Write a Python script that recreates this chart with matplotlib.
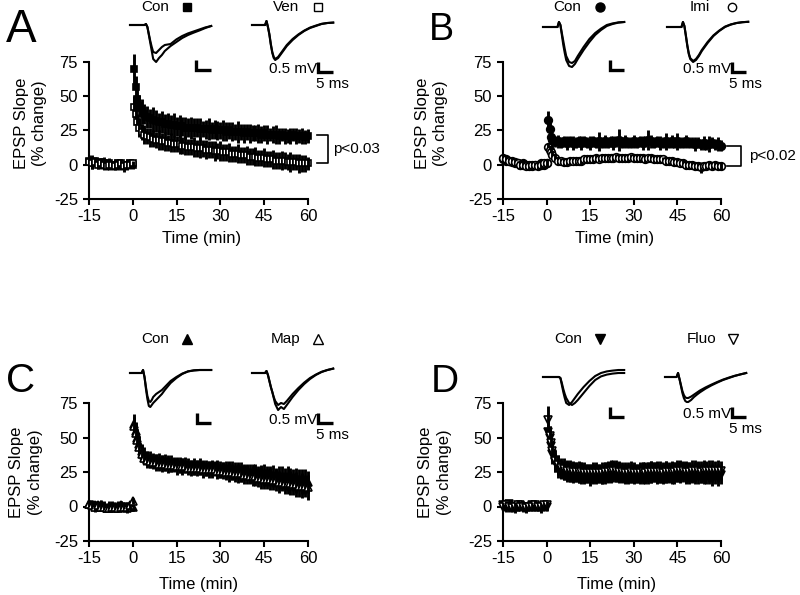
import matplotlib
matplotlib.use("Agg")
import matplotlib.pyplot as plt
from matplotlib.lines import Line2D

plt.rcParams['font.family'] = ['Liberation Sans', 'DejaVu Sans']
plt.rcParams['axes.unicode_minus'] = False

# ---------------- data ----------------
TIME_PRE = [-15, -14, -13, -12, -11, -10, -9, -8, -7, -6, -5, -4, -3, -2, -1, 0]
TIME_POST = [0.5, 1, 1.5] + list(range(2, 61))
TIME = TIME_PRE + TIME_POST

X_TICKS = [-15, 0, 15, 30, 45, 60]
Y_TICKS = [-25, 0, 25, 50, 75]

# Panel A: Con (filled squares) vs Ven (open squares)
A_CON = [3, 2, 3, 1, 2, 1, 0, 1, -1, 0, 1, 0, -1, 0, 1, 0,
         70, 57, 48,
         43, 39, 37, 35, 34, 33, 32, 31, 31, 30,
         30, 29, 29, 28, 28, 28, 27, 27, 27, 27,
         27, 26, 26, 26, 26, 25, 26, 25, 25, 25,
         24, 25, 24, 24, 24, 24, 23, 24, 23, 23,
         23, 23, 22, 23, 22, 22, 22, 22, 21, 22,
         21, 21, 21, 22, 21, 21, 21, 20, 21]
A_CON_ERR = [4, 5, 3, 4, 3, 5, 3, 4, 3, 4, 3, 4, 4, 3, 3, 3,
             11, 8, 8,
             8, 9, 7, 8, 7, 9, 8, 7, 8, 7,
             8, 7, 9, 7, 8, 7, 8, 7, 8, 7,
             7, 8, 6, 7, 8, 6, 7, 7, 6, 8,
             7, 6, 7, 6, 8, 6, 7, 6, 7, 6,
             6, 7, 6, 6, 7, 5, 6, 7, 6, 5,
             6, 5, 6, 5, 6, 5, 6, 5, 5]
A_VEN = [2, 1, 2, 0, 1, 0, -1, 0, 0, -1, 0, 1, -1, 0, 0, 1,
         42, 37, 31,
         27, 24, 22, 21, 20, 19, 18, 18, 17, 17,
         16, 16, 15, 15, 15, 14, 14, 13, 13, 13,
         12, 12, 12, 11, 11, 11, 10, 10, 10, 9,
         9, 9, 8, 8, 8, 7, 7, 7, 6, 6,
         6, 5, 5, 5, 4, 4, 4, 3, 3, 3,
         3, 2, 2, 2, 2, 1, 1, 1, 1]
A_VEN_ERR = [3, 4, 3, 3, 4, 3, 3, 4, 3, 3, 4, 3, 3, 4, 3, 2,
             8, 7, 6,
             7, 6, 7, 6, 7, 6, 6, 7, 6, 7,
             6, 7, 6, 6, 7, 6, 7, 6, 6, 7,
             6, 7, 6, 7, 6, 6, 7, 6, 7, 6,
             6, 7, 6, 6, 7, 6, 6, 7, 6, 6,
             7, 6, 6, 7, 6, 6, 7, 6, 6, 7,
             6, 6, 7, 6, 6, 7, 6, 6, 5]

# Panel B: Con (filled circles) vs Imi (open circles)
B_CON = [4, 3, 3, 2, 1, 1, 0, 1, 0, 0, -1, 0, 0, 1, 0, 1,
         33, 26, 20,
         18, 17, 17, 16, 17, 16, 17, 16, 16, 17,
         16, 17, 16, 16, 17, 16, 17, 16, 17, 16,
         17, 16, 17, 18, 16, 17, 16, 16, 17, 16,
         17, 16, 17, 18, 17, 16, 17, 16, 16, 17,
         16, 17, 16, 17, 16, 16, 17, 16, 16, 15,
         16, 15, 16, 15, 15, 16, 15, 15, 14]
B_CON_ERR = [3, 3, 3, 3, 3, 3, 3, 3, 3, 3, 3, 3, 3, 3, 3, 3,
             6, 5, 5,
             5, 4, 5, 4, 4, 5, 4, 5, 4, 4,
             5, 4, 4, 5, 4, 4, 7, 4, 5, 4,
             4, 5, 4, 8, 4, 5, 4, 4, 5, 4,
             4, 5, 4, 7, 5, 4, 4, 5, 4, 6,
             4, 5, 4, 6, 4, 4, 5, 4, 4, 5,
             4, 4, 5, 4, 6, 4, 4, 5, 4]
B_IMI = [5, 4, 3, 3, 2, 1, 0, 0, -1, -1, 0, 0, -1, 0, 1, 1,
         13, 11, 9,
         7, 5, 3, 3, 2, 2, 3, 3, 3, 3,
         3, 4, 4, 4, 4, 5, 4, 5, 5, 5,
         5, 5, 6, 5, 5, 5, 5, 6, 5, 5,
         5, 5, 4, 5, 5, 4, 4, 4, 4, 3,
         3, 3, 2, 2, 1, 1, 0, 0, 0, -1,
         -1, -2, -1, -1, 0, -1, 0, -1, -1]
B_IMI_ERR = [3, 3, 2, 3, 3, 2, 3, 3, 2, 3, 3, 2, 3, 3, 2, 3,
             3, 3, 3,
             3, 3, 3, 2, 3, 3, 3, 2, 3, 3,
             3, 2, 3, 3, 3, 3, 2, 3, 3, 3,
             3, 3, 2, 3, 3, 3, 3, 2, 3, 3,
             3, 3, 3, 2, 3, 3, 3, 3, 2, 3,
             3, 3, 3, 3, 2, 3, 3, 3, 3, 3,
             3, 4, 3, 3, 3, 3, 3, 3, 3]

# Panel C: Con (filled triangles) vs Map (open triangles)
C_CON = [2, 1, 1, 0, 1, 0, -1, 0, 0, -1, 0, 1, 0, -1, 0, 0,
         60, 55, 50,
         45, 40, 37, 35, 34, 34, 33, 33, 32, 32,
         32, 31, 31, 31, 30, 30, 30, 30, 29, 29,
         29, 29, 29, 28, 28, 28, 28, 28, 27, 27,
         27, 27, 26, 26, 26, 25, 25, 25, 24, 24,
         24, 23, 23, 23, 22, 22, 22, 21, 21, 21,
         20, 20, 20, 19, 19, 19, 18, 18, 18]
C_CON_ERR = [3, 4, 3, 3, 4, 3, 3, 4, 3, 3, 4, 3, 3, 4, 3, 3,
             7, 6, 6,
             6, 5, 6, 5, 6, 5, 5, 6, 5, 6,
             5, 6, 5, 5, 6, 5, 6, 5, 5, 6,
             5, 6, 5, 6, 5, 6, 5, 6, 6, 5,
             6, 6, 7, 6, 6, 7, 6, 6, 7, 7,
             7, 6, 7, 8, 7, 7, 8, 7, 8, 8,
             8, 9, 8, 8, 9, 8, 9, 9, 8]
C_MAP = [2, 1, 0, 1, 0, 0, -1, -1, 0, 0, -1, 0, 0, 0, 1, 4,
         58, 53, 48,
         43, 38, 35, 34, 33, 32, 32, 31, 31, 31,
         30, 30, 30, 29, 29, 29, 29, 28, 28, 28,
         28, 28, 27, 27, 27, 27, 27, 26, 26, 26,
         25, 25, 25, 24, 24, 24, 23, 23, 22, 22,
         22, 21, 21, 20, 20, 20, 19, 19, 18, 18,
         17, 17, 17, 16, 16, 15, 15, 15, 14]
C_MAP_ERR = [3, 3, 4, 3, 3, 4, 3, 3, 4, 3, 3, 4, 3, 3, 3, 2,
             7, 6, 6,
             5, 6, 5, 6, 5, 5, 6, 5, 6, 5,
             6, 5, 5, 6, 5, 6, 5, 5, 6, 5,
             6, 5, 6, 5, 6, 6, 5, 6, 5, 6,
             6, 7, 6, 6, 7, 6, 7, 7, 6, 7,
             7, 7, 8, 7, 7, 8, 7, 8, 8, 7,
             8, 8, 9, 8, 9, 8, 9, 8, 9]

# Panel D: Con (filled down-triangles) vs Fluo (open down-triangles)
D_CON = [1, 0, 2, 0, -1, 0, 1, 0, -1, 0, 1, 0, 0, -1, 0, 0,
         54, 50, 44,
         38, 32, 29, 27, 26, 26, 25, 25, 25, 24,
         24, 24, 24, 23, 24, 24, 24, 23, 24, 25,
         25, 26, 25, 25, 24, 24, 24, 24, 24, 24,
         24, 24, 24, 24, 25, 25, 24, 24, 24, 25,
         24, 24, 24, 25, 25, 25, 24, 24, 24, 24,
         24, 24, 24, 24, 23, 23, 23, 23, 23]
D_CON_ERR = [3, 4, 3, 3, 4, 3, 3, 4, 3, 3, 4, 3, 3, 4, 3, 3,
             8, 8, 7,
             7, 7, 8, 7, 7, 8, 7, 8, 7, 7,
             8, 7, 7, 8, 7, 8, 7, 7, 8, 7,
             8, 8, 7, 8, 7, 7, 8, 7, 8, 7,
             7, 8, 7, 8, 8, 7, 8, 7, 8, 8,
             7, 8, 8, 7, 8, 7, 8, 8, 7, 8,
             8, 7, 8, 8, 7, 8, 7, 8, 7]
D_FLUO = [0, 1, 0, -1, 0, 1, 0, 0, -1, 0, 0, 1, 0, 0, 1, 1,
          63, 51, 46,
          40, 33, 30, 28, 27, 26, 26, 25, 25, 25,
          25, 24, 24, 24, 24, 24, 24, 24, 25, 25,
          26, 26, 26, 25, 25, 24, 24, 25, 24, 24,
          24, 25, 24, 25, 25, 25, 25, 25, 24, 25,
          25, 25, 25, 26, 26, 26, 25, 25, 26, 26,
          26, 25, 26, 26, 26, 26, 26, 26, 26]
D_FLUO_ERR = [3, 3, 4, 3, 3, 4, 3, 3, 4, 3, 3, 4, 3, 3, 3, 3,
              10, 7, 7,
              7, 8, 7, 7, 8, 7, 8, 7, 7, 8,
              7, 8, 7, 7, 8, 7, 7, 8, 7, 8,
              8, 7, 8, 7, 7, 8, 7, 8, 7, 7,
              8, 7, 8, 7, 8, 7, 8, 8, 7, 8,
              7, 8, 7, 8, 8, 7, 8, 7, 8, 8,
              7, 8, 8, 7, 8, 8, 7, 8, 7]

# Example EPSP traces (ms, mV): two overlaid sweeps per inset
T_TRACE = [0, 4, 4.5, 5, 5.5, 6, 6.5, 7, 7.5, 8, 9, 10, 11, 12, 14, 16, 18, 20, 22, 24, 26, 28]
TR_A_CON_1 = [0, 0, 0, 0, 0.05, -0.1, -0.5, -0.9, -1.3, -1.7, -1.85, -1.65, -1.5, -1.3, -1.05, -0.85, -0.65, -0.5, -0.38, -0.27, -0.15, -0.05]
TR_A_CON_2 = [0, 0, 0, 0, 0.05, -0.1, -0.45, -0.8, -1.1, -1.35, -1.4, -1.25, -1.1, -1.0, -0.95, -0.72, -0.55, -0.42, -0.32, -0.22, -0.12, -0.05]
TR_A_VEN_1 = [0, 0, 0, 0.2, -0.1, -0.5, -1.0, -1.4, -1.65, -1.75, -1.65, -1.45, -1.25, -1.05, -0.75, -0.5, -0.3, -0.15, -0.05, 0.05, 0.1, 0.12]
TR_A_VEN_2 = [0, 0, 0, 0.2, -0.1, -0.45, -0.95, -1.35, -1.6, -1.7, -1.6, -1.4, -1.2, -1.0, -0.7, -0.47, -0.28, -0.13, -0.03, 0.06, 0.1, 0.12]
TR_B_CON_1 = [0, 0, 0, 0, 0.25, 0.1, -0.4, -0.9, -1.3, -1.65, -1.95, -2.0, -1.85, -1.6, -1.15, -0.75, -0.4, -0.15, 0.05, 0.15, 0.22, 0.25]
TR_B_CON_2 = [0, 0, 0, 0, 0.25, 0.1, -0.3, -0.7, -1.1, -1.45, -1.75, -1.8, -1.7, -1.45, -1.0, -0.6, -0.3, -0.08, 0.1, 0.18, 0.23, 0.25]
TR_B_IMI_1 = [0, 0, 0, 0, 0.25, 0.05, -0.45, -0.95, -1.35, -1.6, -1.75, -1.65, -1.45, -1.2, -0.8, -0.45, -0.2, 0, 0.12, 0.2, 0.24, 0.26]
TR_B_IMI_2 = [0, 0, 0, 0, 0.25, 0.05, -0.4, -0.9, -1.3, -1.55, -1.7, -1.6, -1.4, -1.15, -0.75, -0.42, -0.18, 0.02, 0.13, 0.2, 0.24, 0.26]
TR_C_CON_1 = [0, 0, 0.15, -0.2, -0.8, -1.3, -1.65, -1.7, -1.6, -1.5, -1.35, -1.2, -1.05, -0.85, -0.5, -0.25, -0.05, 0.08, 0.13, 0.15, 0.15, 0.15]
TR_C_CON_2 = [0, 0, 0.15, -0.2, -0.7, -1.15, -1.4, -1.45, -1.35, -1.2, -1.05, -0.95, -0.85, -0.7, -0.4, -0.2, -0.03, 0.08, 0.13, 0.15, 0.15, 0.15]
TR_C_MAP_1 = [0, 0, 0, 0.1, -0.1, -0.4, -0.7, -0.95, -1.25, -1.55, -1.85, -1.7, -1.8, -1.6, -1.2, -0.85, -0.55, -0.3, -0.1, 0.05, 0.15, 0.22]
TR_C_MAP_2 = [0, 0, 0, 0.1, -0.1, -0.4, -0.7, -0.95, -1.2, -1.4, -1.6, -1.5, -1.55, -1.4, -1.05, -0.75, -0.48, -0.25, -0.08, 0.06, 0.15, 0.22]
TR_D_CON_1 = [0, 0, 0, 0, 0, -0.05, -0.4, -0.75, -1.05, -1.3, -1.4, -1.25, -1.05, -0.85, -0.5, -0.2, 0.05, 0.2, 0.28, 0.32, 0.35, 0.35]
TR_D_CON_2 = [0, 0, 0, 0, 0, -0.05, -0.3, -0.6, -0.85, -1.05, -1.3, -1.4, -1.3, -1.15, -0.8, -0.45, -0.15, 0.03, 0.12, 0.17, 0.2, 0.2]
TR_D_FLUO_1 = [0, 0, 0.2, -0.1, -0.45, -0.8, -1.05, -1.2, -1.25, -1.25, -1.15, -1.0, -0.88, -0.77, -0.58, -0.42, -0.28, -0.15, -0.05, 0.05, 0.13, 0.2]
TR_D_FLUO_2 = [0, 0, 0.2, -0.1, -0.4, -0.7, -0.9, -1.02, -1.05, -1.05, -0.98, -0.88, -0.78, -0.68, -0.52, -0.38, -0.25, -0.13, -0.03, 0.06, 0.13, 0.2]

SCALE_MS = 5
SCALE_MV = 0.5

# ---------------- layout helpers ----------------
W, H = 800, 595
fig = plt.figure(figsize=(W / 100, H / 100), dpi=100)


def px_rect(x0, y_top, x1, y_bot):
    return [x0 / W, 1 - y_bot / H, (x1 - x0) / W, (y_bot - y_top) / H]


def fx(x):
    return x / W


def fy(y):
    return 1 - y / H


def main_axes(rect, ylab_x, ylab_y, xlab_x, xlab_y):
    ax = fig.add_axes(px_rect(*rect))
    ax.set_xlim(-15, 60)
    ax.set_ylim(-25, 75)
    ax.set_xticks(X_TICKS)
    ax.set_yticks(Y_TICKS)
    for s in ('top', 'right'):
        ax.spines[s].set_visible(False)
    for s in ('left', 'bottom'):
        ax.spines[s].set_linewidth(1.5)
        ax.spines[s].set_zorder(0.5)
    ax.tick_params(direction='out', length=4.5, width=1.5, labelsize=12)
    ax.tick_params(axis='x', pad=2.5)
    ax.set_ylabel('EPSP Slope\n(% change)', fontsize=12, linespacing=1.3)
    ax.set_xlabel('Time (min)', fontsize=12)
    ax.yaxis.set_label_coords(ylab_x, ylab_y)
    ax.xaxis.set_label_coords(xlab_x, xlab_y)
    ax.patch.set_visible(False)
    return ax


def series(ax, y, err, marker, filled, ms, z0):
    # point by point: symbol first, then its error bar on top of it
    face = 'black' if filled else 'white'
    for i, (t, v, e) in enumerate(zip(TIME, y, err)):
        ax.plot([t], [v], marker=marker, ms=ms, mfc=face, mec='black',
                mew=1.2, linestyle='none', clip_on=False, zorder=z0 + 2 * i)
        ax.plot([t, t], [v - e, v + e], color='black', lw=2.1,
                solid_capstyle='butt', clip_on=False, zorder=z0 + 2 * i + 1)


def bracket(ax, x0, x1, y_top, y_bot, text, tx):
    ax.plot([x0, x1, x1, x0], [y_top, y_top, y_bot, y_bot], color='black',
            lw=1.2, clip_on=False)
    ax.text(tx, (y_top + y_bot) / 2, text, fontsize=11, ha='left', va='center',
            clip_on=False)


def inset(x0px, ybase_px, v1, v2, bar_t, bar_v, labels):
    sx, sy = 2.9, 20.0
    left, right = x0px - 5, x0px + 105
    top, bot = ybase_px - 15, ybase_px + 70
    ax = fig.add_axes(px_rect(left, top, right, bot))
    ax.set_xlim(-5 / sx, 105 / sx)
    ax.set_ylim(-70 / sy, 15 / sy)
    ax.axis('off')
    ax.plot(T_TRACE, v1, color='black', lw=1.5)
    ax.plot(T_TRACE, v2, color='black', lw=1.5)
    ax.plot([bar_t, bar_t, bar_t + SCALE_MS], [bar_v + SCALE_MV, bar_v, bar_v],
            color='black', lw=2.4, solid_joinstyle='miter', solid_capstyle='butt')
    if labels:
        ax.text(bar_t - 0.2, bar_v + 0.13, '0.5 mV', fontsize=11, ha='right',
                va='center')
        ax.text(bar_t + 4.8, bar_v - 0.58, '5 ms', fontsize=11, ha='center',
                va='center')


def legend_item(x_text, x_mark, y, label, marker, filled, ms):
    fig.text(fx(x_text), fy(y), label, fontsize=11, ha='center', va='center')
    fig.add_artist(Line2D([fx(x_mark)], [fy(y)], marker=marker, ms=ms,
                          mfc='black' if filled else 'white', mec='black',
                          mew=1.0, linestyle='none', transform=fig.transFigure))


# ---------------- Panel A ----------------
axA = main_axes((89, 62, 308, 199), -0.19, 0.55, 0.516, -0.235)
series(axA, A_CON, A_CON_ERR, 's', True, 5, 10)
series(axA, A_VEN, A_VEN_ERR, 's', False, 5, 200)
bracket(axA, 63, 67, A_CON[-1] + 1, A_VEN[-1], 'p<0.03', 68.5)

# ---------------- Panel B ----------------
axB = main_axes((503, 62, 721, 199), -0.25, 0.55, 0.51, -0.23)
series(axB, B_CON, B_CON_ERR, 'o', True, 5.5, 10)
series(axB, B_IMI, B_IMI_ERR, 'o', False, 5.5, 200)
bracket(axB, 62, 66.8, B_CON[-1], B_IMI[-1], 'p<0.02', 69.6)

# ---------------- Panel C ----------------
axC = main_axes((89, 403, 308, 541), -0.21, 0.50, 0.50, -0.26)
series(axC, C_CON, C_CON_ERR, '^', True, 5.5, 10)
series(axC, C_MAP, C_MAP_ERR, '^', False, 5.5, 200)

# ---------------- Panel D ----------------
axD = main_axes((503, 403, 721, 541), -0.235, 0.50, 0.52, -0.26)
series(axD, D_CON, D_CON_ERR, 'v', True, 5.5, 10)
series(axD, D_FLUO, D_FLUO_ERR, 'v', False, 5.5, 200)

# ---------------- insets ----------------
inset(130, 25, TR_A_CON_1, TR_A_CON_2, 22.8, -2.25, False)
inset(252, 25, TR_A_VEN_1, TR_A_VEN_2, 22.8, -2.35, True)
inset(543, 27, TR_B_CON_1, TR_B_CON_2, 23.1, -2.15, False)
inset(667, 27, TR_B_IMI_1, TR_B_IMI_2, 22.4, -2.25, True)
inset(130, 373, TR_C_CON_1, TR_C_CON_2, 23.1, -2.5, False)
inset(252, 373, TR_C_MAP_1, TR_C_MAP_2, 22.8, -2.5, True)
inset(543, 377, TR_D_CON_1, TR_D_CON_2, 23.1, -2.0, False)
inset(665, 377, TR_D_FLUO_1, TR_D_FLUO_2, 23.1, -2.0, True)

# ---------------- legends ----------------
legend_item(155, 187, 7, 'Con', 's', True, 6)
legend_item(286, 318, 7, 'Ven', 's', False, 6)
legend_item(567, 600, 7, 'Con', 'o', True, 6.5)
legend_item(700, 732, 7, 'Imi', 'o', False, 6)
legend_item(155, 187, 339, 'Con', '^', True, 6.5)
legend_item(286, 318, 339, 'Map', '^', False, 6.5)
legend_item(568, 600, 339, 'Con', 'v', True, 6.5)
legend_item(702, 733, 339, 'Fluo', 'v', False, 6.5)

# ---------------- panel letters ----------------
fig.text(fx(6), fy(42), 'A', fontsize=33, ha='left', va='baseline')
fig.text(fx(429), fy(40), 'B', fontsize=27, ha='left', va='baseline')
fig.text(fx(6), fy(392), 'C', fontsize=29, ha='left', va='baseline')
fig.text(fx(431), fy(392), 'D', fontsize=28, ha='left', va='baseline')

fig.savefig('out.png', dpi=100)
